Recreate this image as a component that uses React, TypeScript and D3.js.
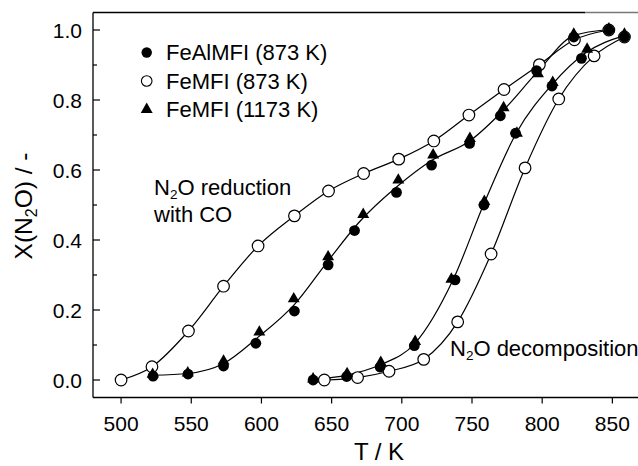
import React from "react";
import * as d3 from "d3";

// ---- data (T / K, X(N2O)) ----
// FeAlMFI (873 K), filled circles
const feAlRedT = [522.8, 547.7, 573, 596, 623.5, 647.5, 666.3, 696.2, 721.2, 748.3, 770.2, 796, 822.5, 847.5];
const feAlRedX = [0.011, 0.017, 0.04, 0.105, 0.197, 0.329, 0.427, 0.536, 0.614, 0.676, 0.755, 0.884, 0.98, 1.0];
const feAlDecT = [636.8, 660.7, 684.5, 708.9, 737.9, 758.5, 781, 807, 828, 858.6];
const feAlDecX = [0.0, 0.01, 0.037, 0.098, 0.286, 0.5, 0.705, 0.84, 0.919, 0.98];

// FeMFI (873 K), open circles
const fe873RedT = [500, 522, 548, 573, 597.6, 623.5, 647.8, 672.8, 697.8, 722.8, 747.8, 772.8, 798, 823, 847.5];
const fe873RedX = [0.0, 0.038, 0.14, 0.268, 0.383, 0.469, 0.54, 0.59, 0.631, 0.683, 0.757, 0.83, 0.901, 0.972, 1.0];
const fe873DecT = [644.8, 668.5, 690.9, 715.6, 739.8, 763.6, 787.8, 811.8, 837, 858.6];
const fe873DecX = [0.0, 0.007, 0.025, 0.059, 0.166, 0.36, 0.606, 0.803, 0.926, 0.98];

// FeMFI (1173 K), filled triangles
const fe1173RedT = [522.5, 547.5, 573, 598.5, 623, 647.5, 672.5, 697.5, 722.3, 748.5, 772.5, 797, 822.5, 847.5];
const fe1173RedX = [0.016, 0.02, 0.054, 0.137, 0.232, 0.352, 0.473, 0.571, 0.643, 0.69, 0.778, 0.875, 0.988, 1.003];
const fe1173DecT = [636.8, 661, 685, 709.5, 735.3, 758.8, 782, 807.5, 832, 858.6];
const fe1173DecX = [0.003, 0.018, 0.05, 0.11, 0.288, 0.51, 0.705, 0.85, 0.945, 0.988];

const xTicks = [500, 550, 600, 650, 700, 750, 800, 850];
const yTicks = [0.0, 0.2, 0.4, 0.6, 0.8, 1.0];
const yMinorTicks = [0.1, 0.3, 0.5, 0.7, 0.9];
const legendLabels = ["FeAlMFI (873 K)", "FeMFI (873 K)", "FeMFI (1173 K)"];

const W = 638;
const H = 466;
const FONT = "'Liberation Sans', Arial, Helvetica, sans-serif";

const x = d3.scaleLinear().domain([480, 880]).range([93, 93 + 400 * 1.4037]);
const y = d3.scaleLinear().domain([-0.05, 1.05]).range([397.5, 12.5]);

type P = [number, number];
const zip = (t: number[], v: number[]): P[] => t.map((d, i) => [d, v[i]]);
const avg = (t1: number[], v1: number[], t2: number[], v2: number[]): P[] =>
  t1.map((d, i) => [(d + t2[i]) / 2, (v1[i] + v2[i]) / 2]);

const line = d3
  .line<P>()
  .x((d) => x(d[0]))
  .y((d) => y(d[1]))
  .curve(d3.curveMonotoneX);

const tri = d3.symbol().type(d3.symbolTriangle).size(62)();

export default function App() {
  const curves: P[][] = [
    zip(fe873RedT, fe873RedX),
    avg(feAlRedT, feAlRedX, fe1173RedT, fe1173RedX),
    zip(fe873DecT, fe873DecX),
    avg(feAlDecT, feAlDecX, fe1173DecT, fe1173DecX),
  ];
  const open = [...zip(fe873RedT, fe873RedX), ...zip(fe873DecT, fe873DecX)];
  const filled = [...zip(feAlRedT, feAlRedX), ...zip(feAlDecT, feAlDecX)];
  const tris = [...zip(fe1173RedT, fe1173RedX), ...zip(fe1173DecT, fe1173DecX)];

  const left = x.range()[0];
  const bottom = y.range()[0];
  const top = y.range()[1];

  const legendY = [52.5, 81, 109.5];

  return (
    <svg
      width={W}
      height={H}
      style={{ position: "absolute", left: 0, top: 0, background: "#fff" }}
      fontFamily={FONT}
    >
      <rect x={0} y={0} width={W} height={H} fill="#fff" />
      {/* frame */}
      <line x1={left} x2={585} y1={top} y2={top} stroke="#000" strokeWidth={1.3} />
      <line x1={585} x2={W} y1={top} y2={top} stroke="#777" strokeWidth={1.3} />
      <line x1={left} x2={left} y1={top} y2={bottom} stroke="#000" strokeWidth={1.3} />
      <line x1={left} x2={W} y1={bottom} y2={bottom} stroke="#000" strokeWidth={1.3} />

      {/* y ticks (inside) */}
      {yTicks.map((t) => (
        <g key={"y" + t}>
          <line x1={left} x2={left + 7} y1={y(t)} y2={y(t)} stroke="#000" strokeWidth={1.2} />
          <text x={82} y={y(t)} dy="0.36em" textAnchor="end" fontSize={21}>
            {t.toFixed(1)}
          </text>
        </g>
      ))}
      {yMinorTicks.map((t) => (
        <line key={"ym" + t} x1={left} x2={left + 4} y1={y(t)} y2={y(t)} stroke="#000" strokeWidth={1.2} />
      ))}

      {/* x ticks (outside) */}
      {xTicks.map((t) => (
        <g key={"x" + t}>
          <line x1={x(t)} x2={x(t)} y1={bottom} y2={bottom + 6} stroke="#000" strokeWidth={1.2} />
          <text x={x(t)} y={431} textAnchor="middle" fontSize={21}>
            {t}
          </text>
        </g>
      ))}

      {/* axis titles */}
      <text x={379} y={460} textAnchor="middle" fontSize={24}>
        T / K
      </text>
      <text transform="translate(32,206) rotate(-90)" textAnchor="middle" fontSize={24.5}>
        X(N<tspan fontSize={16} dy={5}>2</tspan>
        <tspan dy={-5}>O) / -</tspan>
      </text>

      {/* curves */}
      {curves.map((c, i) => (
        <path key={"c" + i} d={line(c) || ""} fill="none" stroke="#000" strokeWidth={1.2} />
      ))}

      {/* markers */}
      {open.map((d, i) => (
        <circle key={"o" + i} cx={x(d[0])} cy={y(d[1])} r={5.8} fill="#fff" stroke="#000" strokeWidth={1.2} />
      ))}
      {filled.map((d, i) => (
        <circle key={"f" + i} cx={x(d[0])} cy={y(d[1])} r={5.4} fill="#000" />
      ))}
      {tris.map((d, i) => (
        <path key={"t" + i} d={tri || ""} transform={`translate(${x(d[0])},${y(d[1])})`} fill="#000" />
      ))}

      {/* annotations */}
      <text x={154} y={195} fontSize={22}>
        N<tspan fontSize={13.5} dy={4}>2</tspan>
        <tspan dy={-4}>O reduction</tspan>
      </text>
      <text x={154} y={222} fontSize={22}>
        with CO
      </text>
      <text x={450} y={356} fontSize={22}>
        N<tspan fontSize={13.5} dy={4}>2</tspan>
        <tspan dy={-4}>O decomposition</tspan>
      </text>

      {/* legend */}
      <circle cx={146.7} cy={legendY[0]} r={5.2} fill="#000" />
      <circle cx={146.7} cy={legendY[1]} r={5.3} fill="#fff" stroke="#000" strokeWidth={1.1} />
      <path d={tri || ""} transform={`translate(146.7,${legendY[2]})`} fill="#000" />
      {legendLabels.map((l, i) => (
        <text key={"l" + i} x={166} y={legendY[i] + 7.6} fontSize={22}>
          {l}
        </text>
      ))}
    </svg>
  );
}
